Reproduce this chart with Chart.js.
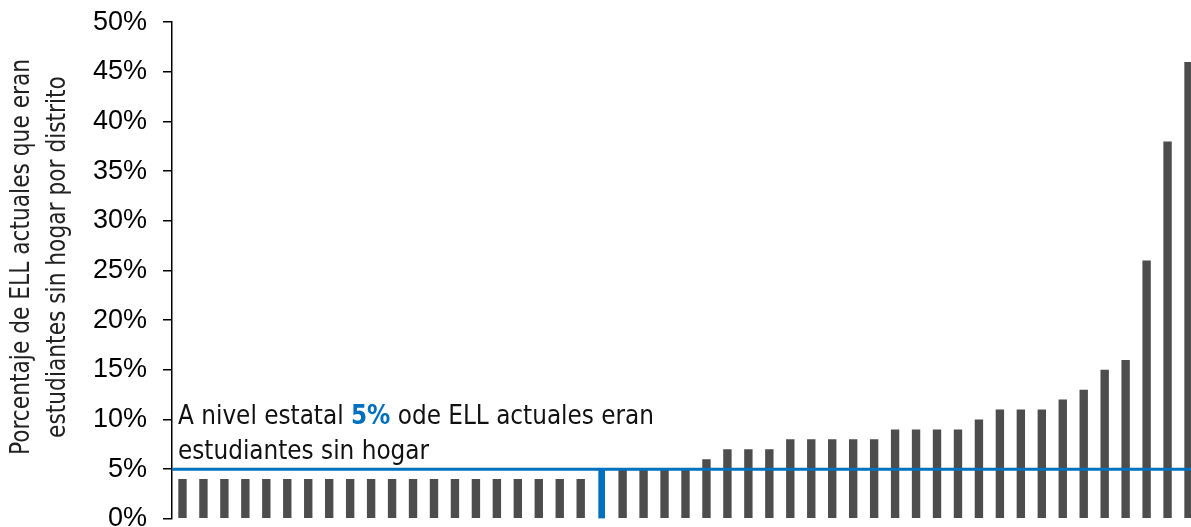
<!DOCTYPE html>
<html>
<head>
<meta charset="utf-8">
<script src="https://cdn.jsdelivr.net/npm/chart.js@4"></script>
<style>
  html, body { margin: 0; padding: 0; background: #fff; overflow: hidden; }
  #wrap { position: relative; width: 1200px; height: 561px; margin-top: -10px; }
</style>
</head>
<body>
<div id="wrap"><canvas id="chart"></canvas></div>
<script>
// porcentaje de ELL actuales que eran estudiantes sin hogar, por distrito (ordenado)
const porcentajes = [4, 4, 4, 4, 4, 4, 4, 4, 4, 4, 4, 4, 4, 4, 4, 4, 4, 4, 4, 4,
    null, 5, 5, 5, 5, 6, 7, 7, 7, 8, 8, 8, 8, 8, 9, 9, 9, 9, 10,
    11, 11, 11, 12, 13, 15, 16, 26, 38, 46];
const nivelEstatal = 5;
const posEstatal = 20;
const distritos = porcentajes.map((v, i) => i === posEstatal ? 'Estatal' : 'Distrito ' + (i + 1));
const estatal = porcentajes.map((v, i) => i === posEstatal ? nivelEstatal : null);
const ticksY = [0, 50, 5];

const AZUL = '#0070C0';
const GRIS = '#4D4D4D';
const NARROW = "'Liberation Sans Narrow', 'Arial Narrow', 'DejaVu Sans Condensed', sans-serif";

// texto en fuente estrecha: se comprime a lo ancho
function narrowText(ctx, txt, x, y, sx) {
    ctx.save();
    ctx.translate(x, y); ctx.scale(sx, 1);
    ctx.fillText(txt, 0, 0);
    ctx.restore();
    return ctx.measureText(txt).width * sx;
}

// linea del nivel estatal, nota y titulo del eje
const notaEstatal = {
    id: 'notaEstatal',
    afterDatasetsDraw(chart) {
        const { ctx, chartArea, scales } = chart;
        const y = scales.y.getPixelForValue(nivelEstatal);
        ctx.save();
        ctx.strokeStyle = AZUL; ctx.lineWidth = 3;
        ctx.beginPath(); ctx.moveTo(chartArea.left, y); ctx.lineTo(chart.width, y); ctx.stroke();

        ctx.textBaseline = 'alphabetic'; ctx.textAlign = 'left';
        const sx = 0.955;
        let x = chartArea.left + 6;
        const y1 = y - 45, y2 = y - 10;
        const parts = [['A nivel estatal ', '#111', ''], ['5%', AZUL, 'bold '], [' ode ELL actuales eran', '#111', '']];
        parts.forEach(p => {
            ctx.font = p[2] + '27px ' + NARROW;
            ctx.fillStyle = p[1];
            x += narrowText(ctx, p[0], x, y1, sx);
        });
        ctx.font = '27px ' + NARROW; ctx.fillStyle = '#111';
        narrowText(ctx, 'estudiantes sin hogar', chartArea.left + 6, y2, sx);

        // titulo del eje y
        ctx.translate(22, 267);
        ctx.rotate(-Math.PI / 2);
        ctx.scale(0.93, 1);
        ctx.font = '26px ' + NARROW; ctx.fillStyle = '#222';
        ctx.textAlign = 'center'; ctx.textBaseline = 'middle';
        ctx.fillText('Porcentaje de ELL actuales que eran', 0, 0);
        ctx.fillText('estudiantes sin hogar por distrito', 0, 36);
        ctx.restore();
    }
};

new Chart(document.getElementById('chart'), {
    type: 'bar',
    data: {
        labels: distritos,
        datasets: [
            { label: 'Distritos', data: porcentajes, backgroundColor: GRIS, barPercentage: 0.4, categoryPercentage: 1, grouped: false },
            { label: 'Nivel estatal', data: estatal, backgroundColor: AZUL, barThickness: 6, grouped: false }
        ]
    },
    options: {
        responsive: true, maintainAspectRatio: false, animation: false,
        layout: { padding: { top: 0, right: 1, bottom: 0, left: 0 } },
        plugins: { legend: { display: false }, tooltip: { enabled: false } },
        scales: {
            x: { display: false, offset: true },
            y: {
                min: ticksY[0], max: ticksY[1],
                afterFit(s) { s.width = 172; },
                border: { display: true, color: '#000', width: 1.5 },
                grid: { drawOnChartArea: false, drawTicks: true, tickLength: 9, color: '#000', lineWidth: 1.5 },
                ticks: { stepSize: ticksY[2], padding: 16, color: '#000', font: { family: "'Liberation Sans', Arial, sans-serif", size: 27 }, callback: v => v + '%' }
            }
        }
    },
    plugins: [notaEstatal]
});
</script>
</body>
</html>
